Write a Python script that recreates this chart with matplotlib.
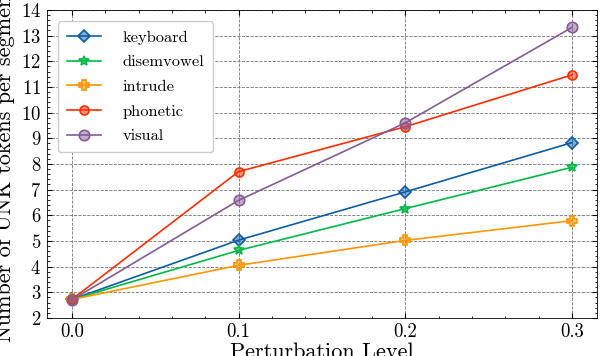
import matplotlib
matplotlib.use("Agg")
import matplotlib.pyplot as plt
from matplotlib.colors import to_rgba
from matplotlib.ticker import AutoMinorLocator, MultipleLocator

# Dados
niveis = [0.0, 0.1, 0.2, 0.3]
keyboard = [2.72, 5.03, 6.91, 8.83]
disemvowel = [2.72, 4.63, 6.26, 7.87]
intrude = [2.72, 4.05, 5.02, 5.79]
phonetic = [2.72, 7.70, 9.45, 11.47]
visual = [2.70, 6.58, 9.60, 13.32]

series = [
    ("keyboard", keyboard, "#0C5DA5", "D", 6.5),
    ("disemvowel", disemvowel, "#00B945", "*", 7.5),
    ("intrude", intrude, "#FF9500", "P", 7.5),
    ("phonetic", phonetic, "#FF2C00", "o", 6.5),
    ("visual", visual, "#845B97", "o", 7.5),
]

plt.rcParams.update({
    "font.family": "serif",
    "font.serif": ["cmr10", "DejaVu Serif"],
    "mathtext.fontset": "cm",
    "axes.formatter.use_mathtext": True,
    "axes.unicode_minus": False,
    "xtick.direction": "in",
    "ytick.direction": "in",
    "xtick.top": True,
    "ytick.right": True,
    "xtick.major.size": 3.5,
    "ytick.major.size": 3.5,
    "xtick.minor.size": 1.8,
    "ytick.minor.size": 1.8,
    "xtick.minor.visible": True,
    "ytick.minor.visible": True,
    "axes.linewidth": 0.6,
})

fig = plt.figure(figsize=(6.0, 3.56), dpi=100)
ax = fig.add_axes([0.078, 0.107, 0.917, 0.865])

for nome, valores, cor, marcador, tam in series:
    ax.plot(
        niveis, valores,
        color=cor,
        linewidth=1.2,
        marker=marcador,
        markersize=tam,
        markerfacecolor=to_rgba(cor, 0.5),
        markeredgecolor=cor,
        markeredgewidth=1.2,
        label=nome,
    )

ax.set_ylim(2, 14)
ax.set_xlim(-0.015, 0.315)
ax.xaxis.set_major_locator(MultipleLocator(0.1))
ax.yaxis.set_major_locator(MultipleLocator(1))
ax.xaxis.set_minor_locator(AutoMinorLocator(5))
ax.yaxis.set_minor_locator(AutoMinorLocator(5))
ax.set_xticks(niveis)
ax.set_xticklabels(["0.0", "0.1", "0.2", "0.3"])
ax.tick_params(labelsize=13.5, pad=4)

ax.grid(True, which="major", linestyle="--", color="0.45", linewidth=0.6)
ax.set_axisbelow(True)

ax.set_xlabel("Perturbation Level", fontsize=16, labelpad=1)
ax.set_ylabel("Number of UNK tokens per segment", fontsize=16, labelpad=4)

ax.legend(
    loc="upper left",
    fontsize=11.8,
    frameon=True,
    framealpha=1.0,
    edgecolor="0.8",
    fancybox=True,
    handlelength=2.1,
    handletextpad=1.3,
    borderpad=0.55,
    labelspacing=0.62,
    bbox_to_anchor=(0.005, 0.99),
)

fig.savefig("out.png", dpi=100)
